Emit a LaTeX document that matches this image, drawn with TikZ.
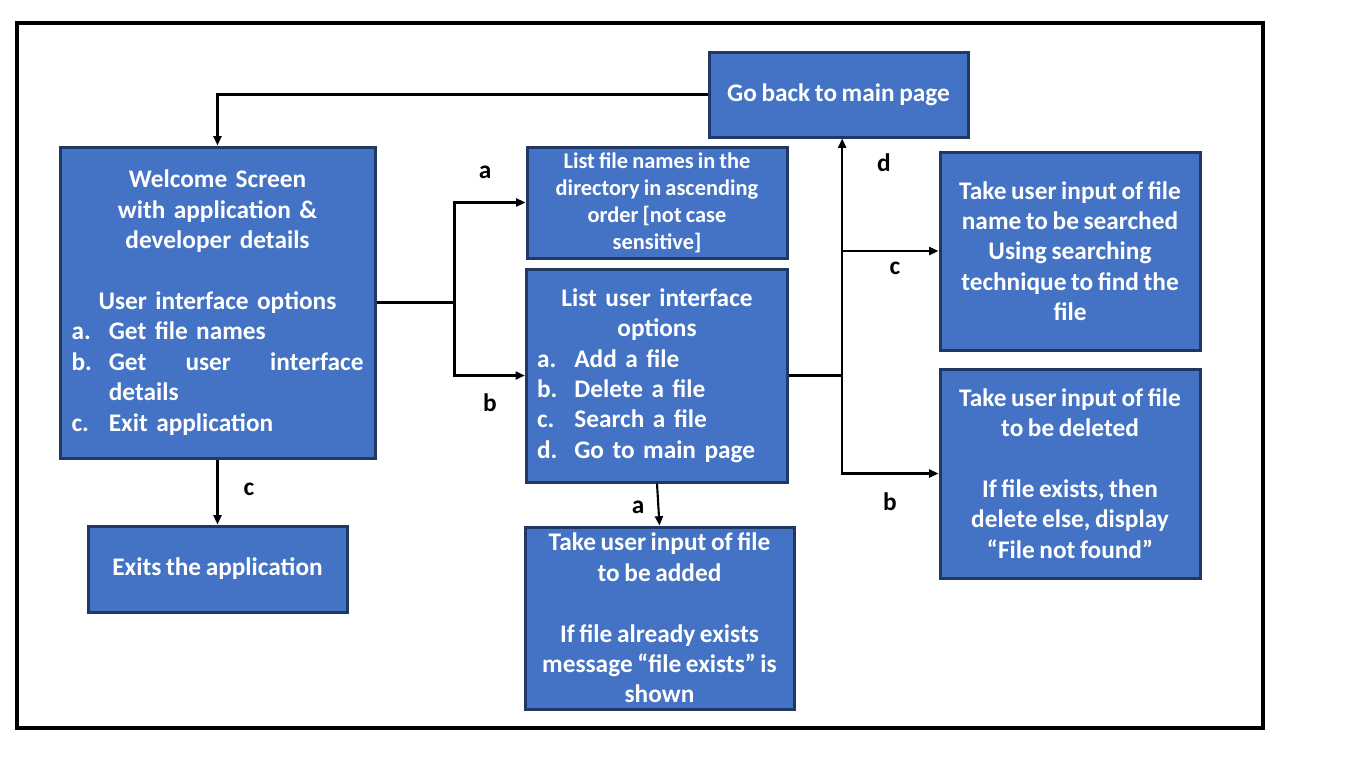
\documentclass[tikz,border=0pt]{standalone}
\usepackage{fontspec}
\setmainfont{Carlito}[WordSpace=0.8]
\usetikzlibrary{arrows.meta}
\definecolor{boxfill}{HTML}{4472C4}
\definecolor{boxline}{HTML}{1F3864}
\newcommand{\optline}[2]{\makebox[\linewidth][l]{\makebox[28pt][l]{#1}#2}}
\tikzset{
  box/.style={draw=boxline, line width=2.25pt, fill=boxfill, text=white,
    font=\fontsize{19}{22.8}\selectfont\bfseries, align=center, inner xsep=8pt},
  arrow/.style={line width=1.6pt, -{Triangle[length=7pt,width=6pt]}},
  link/.style={line width=1.6pt},
  lbl/.style={font=\fontsize{19}{22}\selectfont\bfseries, inner sep=1pt}
}
\begin{document}
\begin{tikzpicture}[x=0.75pt, y=-0.75pt]
        \useasboundingbox (0, 0) rectangle (1366, 768);
        \draw[line width=3pt] (17, 23) rectangle (1263, 728);
        % boxes
        \node[box, minimum width=236.25pt, minimum height=233.25pt, text width=219pt] (welcome) at (217.5, 302.5)
          {Welcome Screen\\ with application \&\\ developer details\\[22.8pt]
           User interface options\\
           \optline{a.}{Get file names}\\
           \makebox[\linewidth][s]{\makebox[28pt][l]{b.}Get\hfill user\hfill interface}\\
           \optline{}{details}\\
           \optline{c.}{Exit application}};
        \node[box, minimum width=194.25pt, minimum height=64.5pt] (exits) at (217.5, 569) {Exits the application};
        \node[box, minimum width=195pt, minimum height=83.25pt, font=\fontsize{16.8}{20.25}\selectfont\bfseries] (names) at (657, 202.5)
          {List file names in the\\ directory in ascending\\ order [not case\\ sensitive]};
        \node[box, minimum width=195pt, minimum height=159.75pt, text width=180pt] (uiopts) at (657, 375.5)
          {List user interface\\ options\\
           \optline{a.}{Add a file}\\
           \optline{b.}{Delete a file}\\
           \optline{c.}{Search a file}\\
           \optline{d.}{Go to main page}};
        \node[box, minimum width=194.25pt, minimum height=63.75pt] (goback) at (838.5, 94.5) {Go back to main page};
        \node[box, minimum width=195pt, minimum height=148.5pt] (search) at (1070, 251)
          {Take user input of file\\ name to be searched\\ Using searching\\ technique to find the\\ file};
        \node[box, minimum width=195pt, minimum height=156.75pt] (delete) at (1070, 473.5)
          {Take user input of file\\ to be deleted\\[22.8pt] If file exists, then\\ delete else, display\\ “File not found”};
        \node[box, minimum width=201.75pt, minimum height=136.5pt] (added) at (659.5, 618)
          {Take user input of file\\ to be added\\[22.8pt] If file already exists\\ message “file exists” is\\ shown};
        % connectors
        \draw[arrow] (goback.west) -| (welcome.north);
        \draw[link] (welcome.east) -- ++(78, 0) coordinate (split1);
        \draw[arrow] (split1) |- (names.west);
        \draw[arrow] (split1) |- (uiopts.west);
        \draw[arrow] (welcome.south) -- (exits.north);
        \draw[arrow] (uiopts.south) -- (added.north);
        \draw[link] (uiopts.east) -- ++(53, 0) coordinate (split2);
        \draw[arrow] (split2) -- (split2 |- goback.south);
        \draw[arrow] (split2) |- (search.west);
        \draw[arrow] (split2) |- (delete.west);
        % labels
        \node[lbl] (la1) at (485, 172) {a};
        \node[lbl] (lb1) at (490, 403) {b};
        \node[lbl] (lc1) at (249, 489) {c};
        \node[lbl, fill=white] (la2) at (638, 507) {a};
        \node[lbl] (ld2) at (884, 163) {d};
        \node[lbl] (lc2) at (895, 268) {c};
        \node[lbl] (lb2) at (890, 502) {b};
    \end{tikzpicture}
\end{document}
